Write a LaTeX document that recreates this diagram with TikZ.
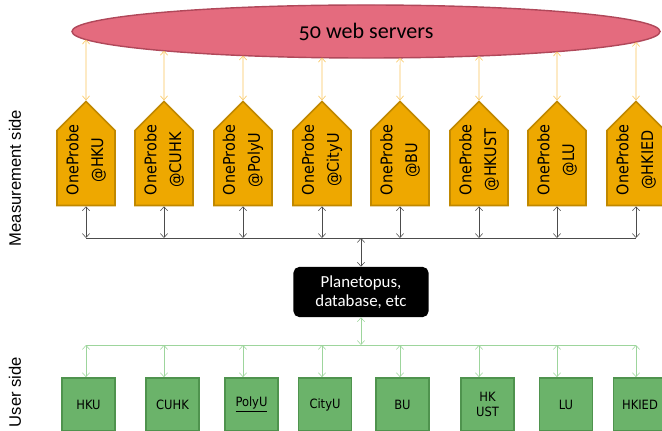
\documentclass[tikz,border=0pt]{standalone}
\usepackage{fontspec}
\setmainfont{Carlito}
\newfontfamily\oldnumfont[Numbers=OldStyle]{Carlito}
\newfontfamily\probefont{DejaVu Sans Condensed}
\newfontfamily\sidefont{Liberation Sans}
\newcommand{\probeline}[1]{\hspace*{2mm}#1\hspace*{-2mm}}
\definecolor{serverred}{HTML}{E46B7E}
\definecolor{serveredge}{HTML}{B0485A}
\definecolor{probegold}{HTML}{EEA800}
\definecolor{probeedge}{HTML}{C08800}
\definecolor{usergreen}{HTML}{6BB36A}
\definecolor{useredge}{HTML}{4F934E}
\definecolor{uplink}{HTML}{F8C45A}
\definecolor{greenlink}{HTML}{9DD59C}
\usetikzlibrary{arrows.meta,positioning,shapes.geometric,shapes.symbols,intersections}

\begin{document}
\begin{tikzpicture}[x=0.025cm,y=-0.025cm,
    srvlink/.style={draw=uplink,thin,{Straight Barb[length=1mm,width=1.8mm]}-{Straight Barb[length=1mm,width=1.8mm]}},
    dblink/.style={draw=black!70,thin,{Straight Barb[length=1mm,width=1.8mm]}-{Straight Barb[length=1mm,width=1.8mm]}},
    userlink/.style={draw=greenlink,thin,{Straight Barb[length=1mm,width=1.8mm]}-{Straight Barb[length=1mm,width=1.8mm]}}]
    \useasboundingbox (0,0) rectangle (662,431);

    % Web servers
    \node[ellipse,draw=serveredge,line width=1pt,fill=serverred,minimum width=14.7cm,minimum height=1.325cm,name path=srvrim] (srv) at (366,31.5) {\oldnumfont\fontsize{15.7}{18}\selectfont 50 web servers};

    % Probes
    \foreach \i/\x/\site in {1/86/HKU,2/164/CUHK,3/243/PolyU,4/322/CityU,5/400/BU,6/479/HKUST,7/557/LU,8/636/HKIED} {
        \node[signal,signal to=east,signal pointer angle=90,rotate=90,draw=probeedge,line width=1.2pt,fill=probegold,minimum width=2.6cm,minimum height=1.45cm,inner sep=1pt,align=center,font=\probefont\fontsize{11.4}{17.7}\selectfont] (p\i) at (\x,168) {\probeline{OneProbe}\\\probeline{@\site}};
    }

    % Database
    \node[rectangle,rounded corners=4pt,fill=black,text=white,minimum width=3.375cm,minimum height=1.25cm,align=center,font=\fontsize{12}{13.5}\selectfont] (db) at (361,292) {Planetopus,\\database, etc};

    % Users
    \foreach \i/\x/\site in {1/88.5/HKU,2/172.5/CUHK,3/251.5/{\underline{PolyU}},4/325/CityU,5/402.5/BU,6/487.5/{HK\\UST},7/566/LU,8/640/HKIED} {
        \node[rectangle,draw=useredge,line width=1.2pt,fill=usergreen,minimum size=1.325cm,inner sep=1pt,align=center,font=\probefont\fontsize{9.1}{10.8}\selectfont] (u\i) at (\x,404.5) {\site};
    }

    % Side labels
    \node[rotate=90,font=\sidefont\fontsize{11.8}{14}\selectfont] (mside) at (15,178) {Measurement side};
    \node[rotate=90,font=\sidefont\fontsize{11.8}{14}\selectfont] (uside) at (15,392) {User side};

    % Connections
    \coordinate (mbus) at (361,238);
    \coordinate (ubus) at (361,345);
    \foreach \i in {1,...,8} {
        \path[name path=up\i] (p\i.east) -- (p\i.east |- srv.center);
        \draw[srvlink,name intersections={of=srvrim and up\i}] (p\i.east) -- (intersection-1);
        \draw[dblink] (p\i.west) -- (p\i.west |- mbus);
        \draw[userlink] (p\i.west |- ubus) -- (p\i.west |- u\i.north);
    }
    \draw[black!70,thin] (p1.west |- mbus) -- (p8.west |- mbus);
    \draw[dblink] (mbus) -- (db.north);
    \draw[greenlink,thin] (p1.west |- ubus) -- (p8.west |- ubus);
    \draw[userlink] (db.south) -- (ubus);
\end{tikzpicture}
\end{document}
